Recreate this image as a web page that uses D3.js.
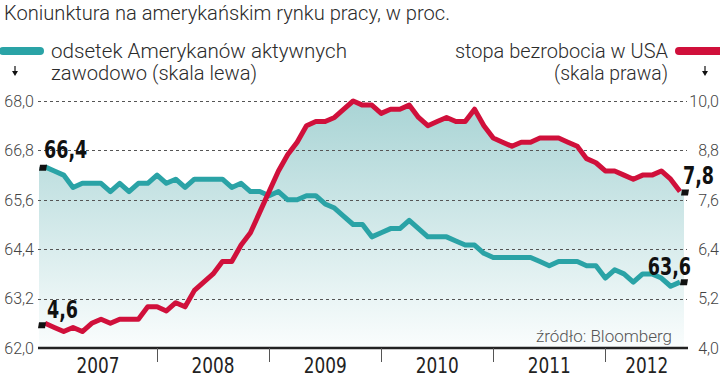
<!doctype html>
<html lang="pl">
<head>
<meta charset="utf-8">
<title>Koniunktura na amerykańskim rynku pracy</title>
<script src="https://cdn.jsdelivr.net/npm/d3@7/dist/d3.min.js"></script>
<style>
	body { margin: 0; background: #fff; }
	text { font-family: Roboto, "Liberation Sans", sans-serif; }
	.title, .legend { font-weight: 300; fill: #2b2b2b; }
	.tick-label { font-size: 16px; font-weight: 300; fill: #444; }
	.grid { stroke: #555; stroke-width: 1; stroke-dasharray: 3,3; shape-rendering: crispEdges; }
	.year { font-family: "Liberation Sans Narrow", "DejaVu Sans Condensed", sans-serif; font-size: 21px; fill: #222; text-anchor: middle; }
	.value { font-family: "Liberation Sans Narrow", "DejaVu Sans Condensed", sans-serif; font-size: 25px; font-weight: bold; fill: #111; }
	.source { font-size: 17px; font-weight: 300; fill: #555; }
	.line { fill: none; stroke-width: 5; stroke-linejoin: round; }
</style>
</head>
<body>
<div id="viz"></div>
<script>

// DATA (monthly, Jan 2007 - Sep 2012)
var years = ["2007", "2008", "2009", "2010", "2011", "2012"];

var participation = [
	66.4, 66.3, 66.2, 65.9, 66.0, 66.0, 66.0, 65.8, 66.0, 65.8, 66.0, 66.0,
	66.2, 66.0, 66.1, 65.9, 66.1, 66.1, 66.1, 66.1, 65.9, 66.0, 65.8, 65.8,
	65.7, 65.8, 65.6, 65.6, 65.7, 65.7, 65.5, 65.4, 65.2, 65.0, 65.0, 64.7,
	64.8, 64.9, 64.9, 65.1, 64.9, 64.7, 64.7, 64.7, 64.6, 64.5, 64.5, 64.3,
	64.2, 64.2, 64.2, 64.2, 64.2, 64.1, 64.0, 64.1, 64.1, 64.1, 64.0, 64.0,
	63.7, 63.9, 63.8, 63.6, 63.8, 63.8, 63.7, 63.5, 63.6
];

var unemployment = [
	4.6, 4.5, 4.4, 4.5, 4.4, 4.6, 4.7, 4.6, 4.7, 4.7, 4.7, 5.0,
	5.0, 4.9, 5.1, 5.0, 5.4, 5.6, 5.8, 6.1, 6.1, 6.5, 6.8, 7.3,
	7.8, 8.3, 8.7, 9.0, 9.4, 9.5, 9.5, 9.6, 9.8, 10.0, 9.9, 9.9,
	9.7, 9.8, 9.8, 9.9, 9.6, 9.4, 9.5, 9.6, 9.5, 9.5, 9.8, 9.4,
	9.1, 9.0, 8.9, 9.0, 9.0, 9.1, 9.1, 9.1, 9.0, 8.9, 8.6, 8.5,
	8.3, 8.3, 8.2, 8.1, 8.2, 8.2, 8.3, 8.1, 7.8
];

var leftTicks = [62.0, 63.2, 64.4, 65.6, 66.8, 68.0];
var rightTicks = [4.0, 5.2, 6.4, 7.6, 8.8, 10.0];

var labelFirstLeft = "66,4", labelLastLeft = "63,6";
var labelFirstRight = "4,6", labelLastRight = "7,8";

(function(d3) {

	var w = 720, h = 377;
	var plot = {left: 39, right: 688, top: 101, bottom: 348};
	var teal = "#2aa3a6", red = "#d0103b";

	var svg = d3.select("#viz")
		.append("svg")
		.attr("width", w)
		.attr("height", h);

	var fmt = function(v) { return d3.format(".1f")(v).replace(".", ","); };

	// SCALES
	var n = participation.length;
	var x = d3.scaleLinear().domain([0, n - 1]).range([45, 680]);
	var yL = d3.scaleLinear().domain([62, 68]).range([plot.bottom, plot.top]);
	var yR = d3.scaleLinear().domain([4, 10]).range([plot.bottom, plot.top]);

	// GRADIENT for the area under both lines
	var grad = svg.append("defs").append("linearGradient")
		.attr("id", "fillGrad")
		.attr("gradientUnits", "userSpaceOnUse")
		.attr("x1", 0).attr("x2", 0)
		.attr("y1", plot.top).attr("y2", plot.bottom);
	grad.append("stop").attr("offset", 0).attr("stop-color", "#a9d4d5");
	grad.append("stop").attr("offset", 1).attr("stop-color", "#fafdfd");

	// area reaches a little past the first and last months
	function areaFor(y) {
		return d3.area()
			.x(function(d, i) {
				if (i === 0) return plot.left;
				if (i === n - 1) return 684;
				return x(i);
			})
			.y0(plot.bottom)
			.y1(function(d) { return y(d); });
	}

	svg.append("path").attr("d", areaFor(yL)(participation)).attr("fill", "url(#fillGrad)");
	svg.append("path").attr("d", areaFor(yR)(unemployment)).attr("fill", "url(#fillGrad)");

	// GRID + TICK LABELS
	leftTicks.forEach(function(t, i) {
		var yy = Math.round(yL(t)) + 0.5;
		if (i > 0) {
			svg.append("line").attr("class", "grid")
				.attr("x1", 38).attr("x2", 687)
				.attr("y1", yy).attr("y2", yy);
		}
		svg.append("text").attr("class", "tick-label")
			.attr("x", 34).attr("y", yL(t)).attr("dy", "0.36em")
			.style("text-anchor", "end")
			.text(fmt(t));
	});
	rightTicks.forEach(function(t) {
		svg.append("text").attr("class", "tick-label")
			.attr("x", 719).attr("y", yR(t)).attr("dy", "0.36em")
			.style("text-anchor", "end")
			.text(fmt(t));
	});

	// X AXIS
	svg.append("line")
		.attr("x1", 38).attr("x2", plot.right)
		.attr("y1", plot.bottom).attr("y2", plot.bottom)
		.attr("stroke", "#222").attr("stroke-width", 2.5);

	var bounds = [plot.left];
	years.forEach(function(y, i) { if (i > 0) bounds.push(x(i * 12)); });
	bounds.push(plot.right);

	bounds.slice(1, -1).forEach(function(b) {
		svg.append("line")
			.attr("x1", Math.round(b) + 0.5).attr("x2", Math.round(b) + 0.5)
			.attr("y1", plot.bottom).attr("y2", plot.bottom + 14)
			.attr("stroke", "#555").attr("stroke-width", 1);
	});

	years.forEach(function(y, i) {
		svg.append("text").attr("class", "year")
			.attr("x", (bounds[i] + bounds[i + 1]) / 2)
			.attr("y", 373)
			.attr("textLength", 43).attr("lengthAdjust", "spacingAndGlyphs")
			.text(y);
	});

	// LINES
	var lineL = d3.line().x(function(d, i) { return x(i); }).y(function(d) { return yL(d); });
	var lineR = d3.line().x(function(d, i) { return x(i); }).y(function(d) { return yR(d); });

	svg.append("path").attr("class", "line").attr("stroke", teal).attr("d", lineL(participation));
	svg.append("path").attr("class", "line").attr("stroke", red).attr("d", lineR(unemployment));

	// END MARKERS + VALUE LABELS
	function marker(cx, cy) {
		svg.append("path")
			.attr("d", "M-3,-3L4,-3L3,3L-4,3Z")
			.attr("transform", "translate(" + cx + "," + cy + ")")
			.attr("fill", "#111");
	}
	marker(x(0) - 2, yL(participation[0]) + 1);
	marker(x(0) - 3, yR(unemployment[0]) + 2);
	marker(x(n - 1) + 5, yR(unemployment[n - 1]) + 1);
	marker(x(n - 1) + 4, yL(participation[n - 1]));

	// bold condensed numbers, squeezed horizontally
	function valueLabel(txt, lx, ly, anchor) {
		svg.append("text").attr("class", "value")
			.attr("transform", "translate(" + lx + "," + ly + ") scale(0.78,1)")
			.style("text-anchor", anchor || "start")
			.text(txt);
	}
	valueLabel(labelFirstLeft, x(0) - 1, yL(participation[0]) - 9);
	valueLabel(labelFirstRight, x(0) + 2, yR(unemployment[0]) - 5);
	valueLabel(labelLastRight, x(n - 1) + 3, yR(unemployment[n - 1]) - 8);
	valueLabel(labelLastLeft, x(n - 1) + 11, yL(participation[n - 1]) - 7, "end");

	svg.append("text").attr("class", "source")
		.attr("x", 672).attr("y", 342)
		.style("text-anchor", "end")
		.text("źródło: Bloomberg");

	// TITLE + LEGEND
	svg.append("text").attr("class", "title")
		.attr("x", 4).attr("y", 20)
		.style("font-size", "21px")
		.attr("textLength", 446).attr("lengthAdjust", "spacingAndGlyphs")
		.text("Koniunktura na amerykańskim rynku pracy, w proc.");

	svg.append("line")
		.attr("x1", 3).attr("x2", 40).attr("y1", 51).attr("y2", 51)
		.attr("stroke", teal).attr("stroke-width", 8).attr("stroke-linecap", "round");
	svg.append("line")
		.attr("x1", 679).attr("x2", 722).attr("y1", 51).attr("y2", 51)
		.attr("stroke", red).attr("stroke-width", 8).attr("stroke-linecap", "round");

	var legend = [
		{t: "odsetek Amerykanów aktywnych", x: 51, y: 58, len: 296, anchor: "start"},
		{t: "zawodowo (skala lewa)", x: 51, y: 80, len: 206, anchor: "start"},
		{t: "stopa bezrobocia w USA", x: 668, y: 58, len: 213, anchor: "end"},
		{t: "(skala prawa)", x: 668, y: 80, len: 114, anchor: "end"}
	];
	legend.forEach(function(l) {
		svg.append("text").attr("class", "legend")
			.attr("x", l.x).attr("y", l.y)
			.style("font-size", "21px")
			.style("text-anchor", l.anchor)
			.attr("textLength", l.len).attr("lengthAdjust", "spacingAndGlyphs")
			.text(l.t);
	});

	// little down arrows under the legend keys
	[15, 705].forEach(function(ax) {
		svg.append("line")
			.attr("x1", ax).attr("x2", ax).attr("y1", 66).attr("y2", 72)
			.attr("stroke", "#111").attr("stroke-width", 1.2);
		svg.append("path")
			.attr("d", "M" + (ax - 3) + ",71L" + (ax + 3) + ",71L" + ax + ",76Z")
			.attr("fill", "#111");
	});

})(d3);

</script>
</body>
</html>
